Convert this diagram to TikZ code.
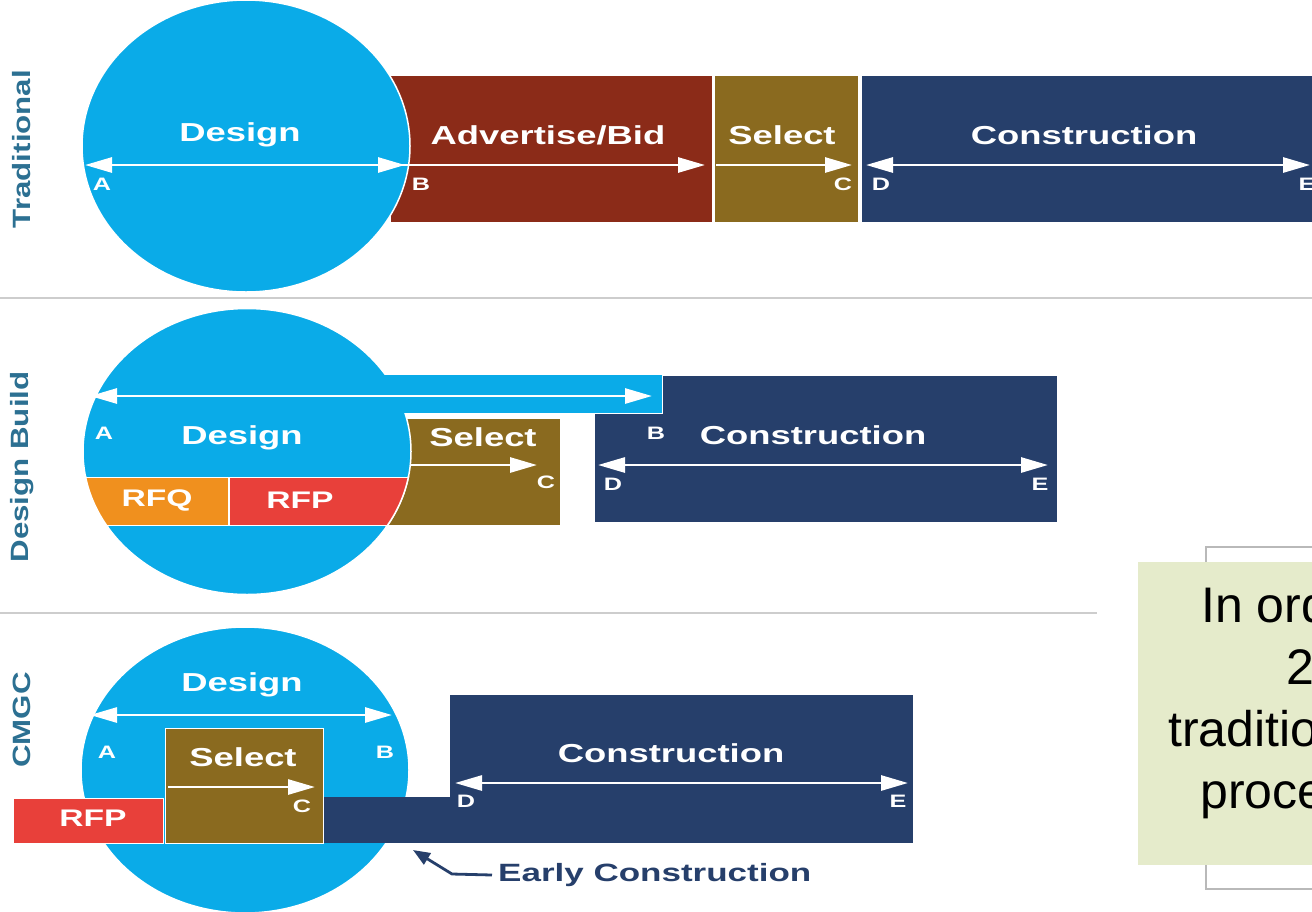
\documentclass[tikz,border=0pt]{standalone}
\usepackage{fontspec}
\setmainfont{Liberation Sans}
\newfontfamily\wf[FakeStretch=1.4]{Liberation Sans}
\newfontfamily\wfs[FakeStretch=1.25]{Liberation Sans}
\usetikzlibrary{arrows.meta,shapes.geometric}
\definecolor{cblue}{HTML}{0AABE8}
\definecolor{advc}{HTML}{8B2B18}
\definecolor{selc}{HTML}{8A6A1F}
\definecolor{navc}{HTML}{263F6B}
\definecolor{rfqc}{HTML}{F0901E}
\definecolor{rfpc}{HTML}{E8403A}
\definecolor{notec}{HTML}{E5EBCB}
\definecolor{divc}{HTML}{CDCDCD}
\definecolor{sidec}{HTML}{2C7092}
\tikzset{
  box/.style={rectangle, inner sep=0pt, draw=white, line width=1.2pt, anchor=north west},
  lbl/.style={text=white, inner sep=0pt, font=\wf\bfseries\fontsize{26}{30}\selectfont},
  smlbl/.style={text=white, inner sep=0pt, font=\wf\bfseries\fontsize{24}{28}\selectfont},
  ltr/.style={text=white, inner sep=0pt, font=\wf\bfseries\fontsize{18}{21}\selectfont},
  side/.style={rotate=90, text=sidec, inner sep=0pt, font=\wfs\bfseries\fontsize{25}{29}\selectfont},
  warr/.style={draw=white, line width=2.8pt, -{Triangle[length=27pt,width=15pt]}},
  wdarr/.style={draw=white, line width=2.8pt, {Triangle[length=27pt,width=15pt]}-{Triangle[length=27pt,width=15pt]}},
  blob/.style={ellipse, fill=cblue, draw=white, line width=1.5pt, inner sep=0pt, minimum width=328pt},
  divider/.style={draw=divc, line width=2.5pt},
  notetxt/.style={anchor=base west, inner sep=0pt, text=black, font=\fontsize{50}{60}\selectfont}
}
\begin{document}
\begin{tikzpicture}[x=1pt,y=-1pt]
\useasboundingbox (0,0) rectangle (1312,911);
\clip (0,0) rectangle (1312,911);
\fill[white] (0,0) rectangle (1312,911);

% ---------- Traditional ----------
\node[side] (s1) at (22,149) {Traditional};
\node[box, fill=advc, minimum width=322pt, minimum height=147pt] (adv1) at (390,75) {};
\node[box, fill=selc, minimum width=144pt, minimum height=147pt] (sel1) at (714,75) {};
\node[box, fill=navc, minimum width=470pt, minimum height=147pt] (con1) at (861,75) {};
\node[blob, minimum height=292pt] (d1) at (246,146) {};
\coordinate (a1) at (85,165);
\coordinate (b1) at (405,165);
\coordinate (b1s) at (392,165);
\coordinate (ad1) at (705,165);
\coordinate (c1s) at (716,165);
\coordinate (c1) at (852,165);
\coordinate (dd1) at (866,165);
\coordinate (e1) at (1310,165);
\draw[wdarr] (a1) -- (b1);
\draw[warr] (b1s) -- (ad1);
\draw[warr] (c1s) -- (c1);
\draw[wdarr] (dd1) -- (e1);
\node[lbl] (td1) at (240,135) {Design};
\node[lbl] (ta1) at (548,135) {Advertise/Bid};
\node[lbl] (ts1) at (782,135) {Select};
\node[lbl] (tc1) at (1084,135) {Construction};
\node[ltr] (la1) at (102,184) {A};
\node[ltr] (lb1) at (421,184) {B};
\node[ltr] (lc1) at (843,184) {C};
\node[ltr] (ld1) at (881,184) {D};
\node[ltr] (le1) at (1307,184) {E};

\draw[divider] (0,298) -- (1312,298);

% ---------- Design Build ----------
\node[side] (s2) at (22,467) {Design Build};
\node[box, fill=navc, minimum width=463pt, minimum height=147pt] (con2) at (594,375) {};
\node[box, fill=selc, minimum width=190pt, minimum height=107pt] (sel2) at (370,418) {};
\node[blob, minimum height=286pt] (d2) at (247,451.5) {};
\node[rectangle, fill=cblue, inner sep=0pt, anchor=north west, minimum width=332pt, minimum height=38pt] (bar2) at (330,375) {};
\draw[white, line width=1.2pt] (bar2.north east) -- (bar2.south east) -- (bar2.south east -| con2.west);
\begin{scope}
  \clip (247,451.5) ellipse [x radius=164pt, y radius=143pt];
  \node[box, fill=rfqc, minimum width=168pt, minimum height=48pt] (rfq2) at (60,477) {};
  \node[box, fill=rfpc, minimum width=200pt, minimum height=48pt] (rfp2) at (229,477) {};
\end{scope}
\begin{scope}
  \clip (0,476) rectangle (500,526);
  \draw[white, line width=1.5pt] (247,451.5) ellipse [x radius=164pt, y radius=143pt];
\end{scope}
\coordinate (a2) at (90,396);
\coordinate (b2) at (652,396);
\coordinate (c2s) at (410,465);
\coordinate (c2) at (537,465);
\coordinate (dd2) at (598,465);
\coordinate (e2) at (1048,465);
\draw[wdarr] (a2) -- (b2);
\draw[warr] (c2s) -- (c2);
\draw[wdarr] (dd2) -- (e2);
\node[lbl] (td2) at (242,438) {Design};
\node[smlbl] (tq2) at (157,500) {RFQ};
\node[smlbl] (tp2) at (300,500) {RFP};
\node[lbl] (ts2) at (483,437) {Select};
\node[lbl] (tc2) at (813,435) {Construction};
\node[ltr] (la2) at (104,433) {A};
\node[ltr] (lb2) at (656,433) {B};
\node[ltr] (lc2) at (546,482) {C};
\node[ltr] (ld2) at (613,484) {D};
\node[ltr] (le2) at (1040,484) {E};

\draw[divider] (0,613) -- (1097,613);

% ---------- CMGC ----------
\node[side] (s3) at (22,720) {CMGC};
\node[blob, minimum height=286pt] (d3) at (245,770) {};
\node[box, fill=rfpc, minimum width=150pt, minimum height=45pt] (rfp3) at (13,798) {};
\node[rectangle, fill=navc, inner sep=0pt, anchor=north west, minimum width=130pt, minimum height=46pt] (early3) at (323,797) {};
\node[rectangle, fill=navc, inner sep=0pt, anchor=north west, minimum width=463pt, minimum height=148pt] (con3) at (450,695) {};
\node[box, fill=selc, minimum width=158pt, minimum height=115pt] (sel3) at (165,728) {};
\coordinate (a3) at (90,715);
\coordinate (b3) at (392,715);
\coordinate (c3s) at (168,787);
\coordinate (c3) at (315,787);
\coordinate (dd3) at (455,783);
\coordinate (e3) at (908,783);
\draw[wdarr] (a3) -- (b3);
\draw[warr] (c3s) -- (c3);
\draw[wdarr] (dd3) -- (e3);
\node[lbl] (td3) at (242,685) {Design};
\node[lbl] (ts3) at (243,757) {Select};
\node[smlbl] (tp3) at (93,818) {RFP};
\node[lbl] (tc3) at (671,753) {Construction};
\node[ltr] (la3) at (107,752) {A};
\node[ltr] (lb3) at (385,752) {B};
\node[ltr] (lc3) at (302,806) {C};
\node[ltr] (ld3) at (466,801) {D};
\node[ltr] (le3) at (898,801) {E};
\node[anchor=west, inner sep=0pt, text=navc, font=\wf\bfseries\fontsize{25}{30}\selectfont] (early) at (498,875) {Early Construction};
\coordinate (ek) at (452,874);
\coordinate (et) at (413,850);
\draw[navc, line width=2.8pt, -{Triangle[length=17pt,width=13pt]}] (early.west) ++(-6,0) -- (ek) -- (et);

% ---------- note box ----------
\node[rectangle, draw=gray!55, fill=white, line width=1.5pt, inner sep=0pt, anchor=north west, minimum width=140pt, minimum height=342pt] (frame) at (1205,546) {};
\node[rectangle, fill=notec, inner sep=0pt, anchor=north west, minimum width=200pt, minimum height=303pt] (note) at (1138,562) {};
\node[notetxt] (n1) at (1201,622) {In ord};
\node[notetxt] (n2) at (1286,684) {2};
\node[notetxt] (n3) at (1168,746) {traditio};
\node[notetxt] (n4) at (1200,808) {proce};
\end{tikzpicture}
\end{document}
